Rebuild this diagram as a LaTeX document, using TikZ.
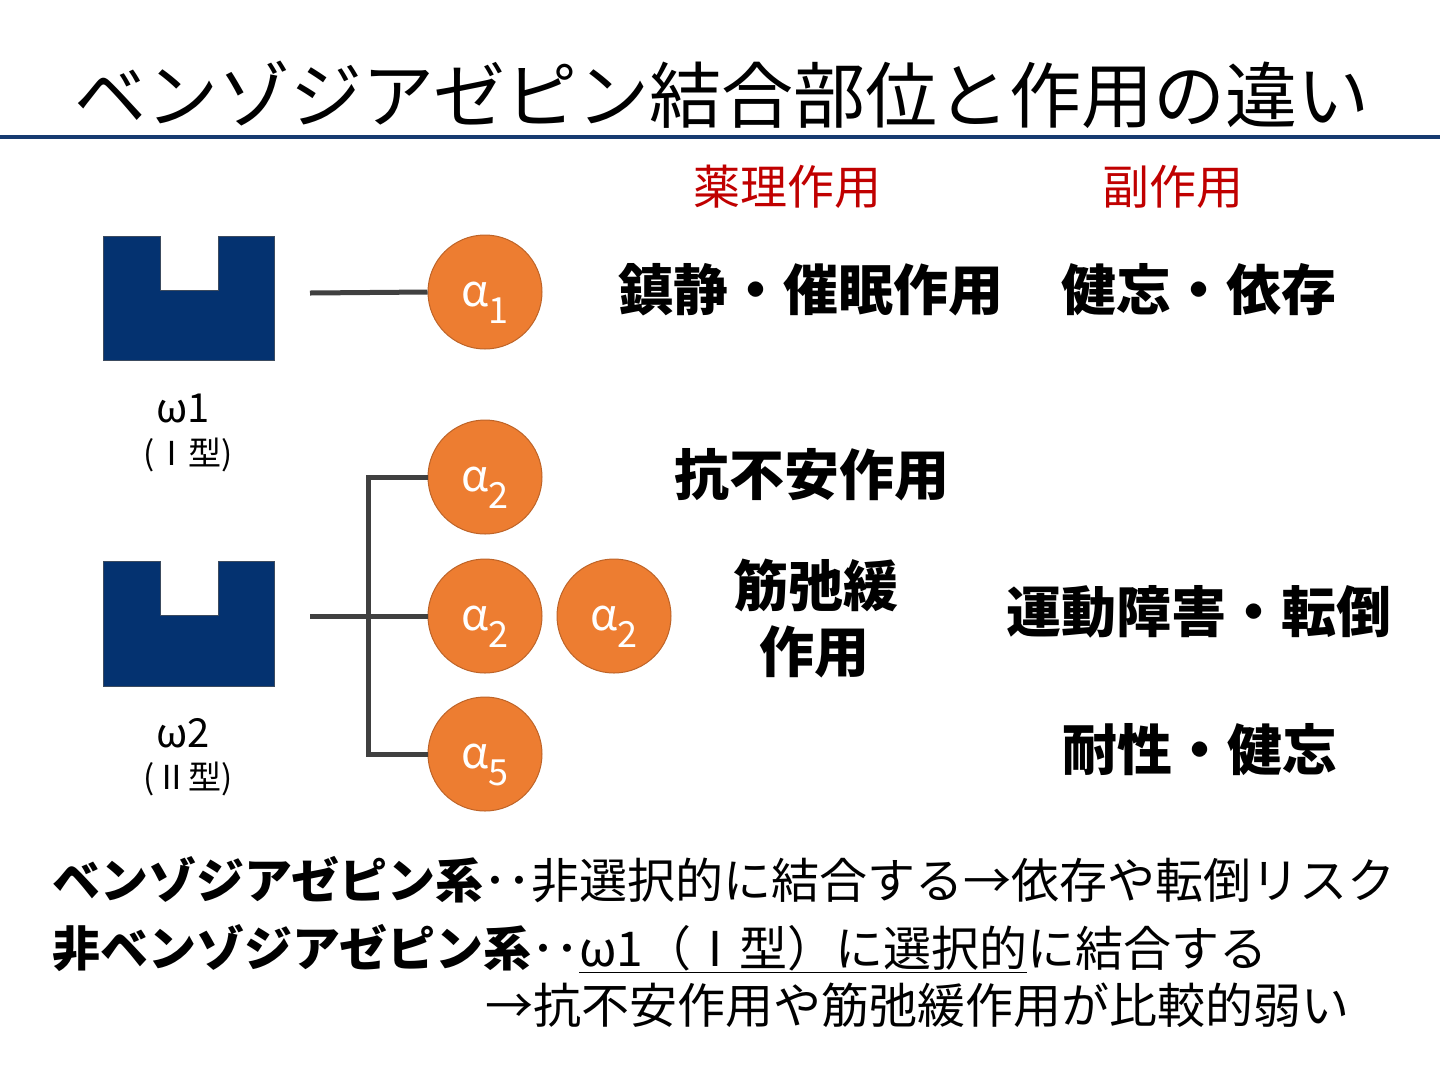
\documentclass[tikz,border=0pt]{standalone}
\usepackage{fontspec}
\setmainfont{Noto Sans CJK JP}
\definecolor{navy}{RGB}{4,50,112}
\definecolor{navyedge}{RGB}{60,75,95}
\definecolor{rulecol}{RGB}{22,58,112}
\definecolor{ballfill}{RGB}{237,125,49}
\definecolor{balledge}{RGB}{190,100,40}
\definecolor{conncol}{RGB}{64,64,64}
\definecolor{headred}{RGB}{192,0,0}
\begin{document}
\begin{tikzpicture}[x=1pt,y=-1pt,
  recep/.style={fill=navy,draw=navyedge,line width=1pt},
  conn/.style={draw=conncol,line width=5pt,line join=miter},
  ball/.style={circle,fill=ballfill,draw=balledge,line width=1pt,minimum size=114pt,inner sep=0pt,text=white,
    font=\fontsize{44}{44}\selectfont,text height=28pt,text depth=0pt},
  eff/.style={inner sep=0pt,font=\fontsize{55}{66}\selectfont\bfseries,align=center},
  head/.style={inner sep=0pt,text=headred,font=\fontsize{47}{50}\selectfont},
  omg/.style={inner sep=0pt,font=\fontsize{40}{40}\selectfont},
  typ/.style={inner sep=0pt,font=\fontsize{33}{33}\selectfont},
  btm/.style={inner sep=0pt,anchor=base west,font=\fontsize{48}{48}\selectfont}
]
\useasboundingbox (0,0) rectangle (1440,1080);
\fill[white] (0,0) rectangle (1440,1080);

% title and rule
\node[inner sep=0pt,font=\fontsize{72}{72}\selectfont] (title) at (722,95) {ベンゾジアゼピン結合部位と作用の違い};
\draw[rulecol,line width=4pt] (0,137) -- (1440,137);

% column headers
\node[head] (h1) at (787,187) {薬理作用};
\node[head] (h2) at (1173,187) {副作用};

% receptors
\draw[recep] (103,236) -- (160,236) -- (160,290) -- (218,290) -- (218,236) -- (274,236) -- (274,360) -- (103,360) -- cycle;
\draw[recep] (103,561) -- (160,561) -- (160,615) -- (218,615) -- (218,561) -- (274,561) -- (274,686) -- (103,686) -- cycle;
\node[omg] (w1) at (183,408) {ω1};
\node[typ] (t1) at (188,455) {(Ⅰ型)};
\node[omg] (w2) at (183,733) {ω2};
\node[typ] (t2) at (188,779) {(Ⅱ型)};

% subunits
\node[ball] (a1) at (485,292) {α\raisebox{-17pt}{\fontsize{36}{36}\selectfont 1}};
\node[ball] (a2a) at (485,477) {α\raisebox{-17pt}{\fontsize{36}{36}\selectfont 2}};
\node[ball] (a2b) at (485,616) {α\raisebox{-17pt}{\fontsize{36}{36}\selectfont 2}};
\node[ball] (a2c) at (614,616) {α\raisebox{-17pt}{\fontsize{36}{36}\selectfont 2}};
\node[ball] (a5) at (485,754) {α\raisebox{-17pt}{\fontsize{36}{36}\selectfont 5}};

% connectors
\coordinate (r1e) at (310,293);
\coordinate (r2e) at (310,616);
\coordinate (jt) at (368,477);
\coordinate (jb) at (368,754);
\draw[conn] (r1e) -- (a1.west);
\draw[conn] (r2e) -- (a2b.west);
\draw[conn] (a2a.west) -- (jt) -- (jb) -- (a5.west);

% effects
\node[eff] (e1) at (811,290) {鎮静・催眠作用};
\node[eff] (s1) at (1199,290) {健忘・依存};
\node[eff] (e2) at (812,475) {抗不安作用};
\node[eff] (e3a) at (816,585) {筋弛緩};
\node[eff] (e3b) at (814,652) {作用};
\node[eff] (s3) at (1199,612) {運動障害・転倒};
\node[eff] (s5) at (1200,750) {耐性・健忘};

% bottom text
\node[btm] (l1) at (52,898) {{\bfseries ベンゾジアゼピン系}･･非選択的に結合する→依存や転倒リスク};
\node[btm] (l2) at (52,966) {{\bfseries 非ベンゾジアゼピン系}･･\underline{ω1（Ⅰ型）に選択的}に結合する};
\node[btm] (l3) at (485,1023) {→抗不安作用や筋弛緩作用が比較的弱い};
\end{tikzpicture}
\end{document}
